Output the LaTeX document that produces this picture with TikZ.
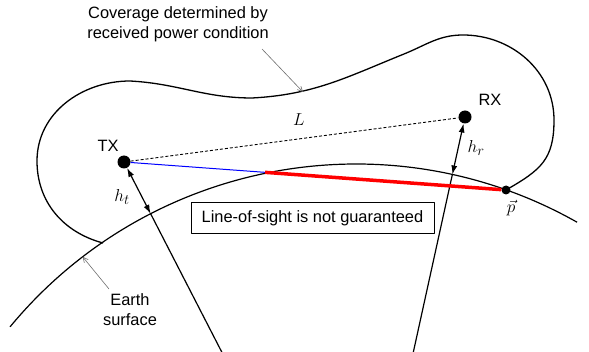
\documentclass[tikz,border=0pt]{standalone}
\usepackage{fontspec}
\setmainfont{Liberation Sans}
\usepackage{tikz}
\usetikzlibrary{arrows.meta,calc}
\definecolor{LinkRed}{HTML}{FF0000}
\definecolor{LinkBlue}{HTML}{0000FF}
\definecolor{NoteGray}{HTML}{6E6E6E}
\tikzset{
  cvdot/.style={circle, fill=black, inner sep=0pt, minimum size=13pt},
  cvtext/.style={font=\fontsize{16.4}{20}\selectfont, inner sep=1pt, align=center},
  cvmath/.style={font=\fontsize{19}{22}\selectfont, inner sep=1pt},
  cvheight/.style={{Latex[length=9pt,width=6pt]}-{Latex[length=9pt,width=6pt]}, line width=1.2pt},
  cvnote/.style={-{Straight Barb[length=5pt,width=5pt]}, line width=0.6pt, draw=NoteGray}
}

\begin{document}
\begin{tikzpicture}[x=1pt, y=1pt, line join=round]
  \useasboundingbox (0,0) rectangle (589,351);
  \clip (0,0) rectangle (589,351);
  \coordinate (C) at (356,-262); % earth centre, off the page
  \node[cvdot] (TX) at (124,189) {};
  \node[cvdot] (RX) at (465,234) {};
  \node[cvdot, minimum size=9pt] (P) at (506,161) {};
  \coordinate (TXfoot) at ($(C)!449pt!(TX)$);
  \coordinate (RXfoot) at ($(C)!449pt!(RX)$);
  \coordinate (cut) at ($(TX)!0.369!(P)$);
  % earth surface
  \draw[line width=1.2pt] ($(C)+(140.4:449)$) arc[start angle=140.4, end angle=60.5, radius=449];
  % coverage region
  \draw[line width=1.3pt] (103,108) to[out=165, in=-90] (37,190) to[out=90, in=180] (130,270)
    to[out=-3, in=180] (252,253) to[out=3, in=202] (404,297) to[out=22, in=180] (463,316)
    to[out=0, in=90] (554,231) to[out=-90, in=30, looseness=1.2] (P.center);
  % radial lines and heights
  \draw[cvheight] (TX) -- (TXfoot);
  \draw[line width=1.2pt] (TXfoot) -- (C);
  \draw[cvheight] (RX) -- (RXfoot);
  \draw[line width=1.2pt] (RXfoot) -- (C);
  % links
  \draw[densely dashed, line width=0.9pt] (TX) -- (RX);
  \draw[LinkBlue, line width=1pt] (TX) -- (cut);
  \draw[LinkRed, line width=3.5pt] (cut) -- (P);
  % labels
  \node[cvtext] (txlbl) at (108,205) {TX};
  \node[cvtext] (rxlbl) at (490,251) {RX};
  \node[cvmath] (len) at (299,231) {$L$};
  \node[cvmath] (htlbl) at (122,154) {$h_t$};
  \node[cvmath] (hrlbl) at (476,203) {$h_r$};
  \node[cvmath] (plbl) at (511,143) {$\vec{p}$};
  \node[cvtext, draw, line width=1pt, minimum width=243pt, minimum height=31pt] (los) at (312.5,132.5) {Line-of-sight is not guaranteed};
  \node[cvtext] (cover) at (178,327) {Coverage determined by\\received power condition};
  \node[cvtext] (earthlbl) at (130,41) {Earth\\surface};
  % notes
  \coordinate (covertail) at (262,302);
  \coordinate (covertip) at (303,259);
  \coordinate (earthtail) at (109,62);
  \coordinate (earthtip) at ($(C)+(127.5:449)$);
  \draw[cvnote] (covertail) -- (covertip);
  \draw[cvnote] (earthtail) -- (earthtip);
\end{tikzpicture}
\end{document}
